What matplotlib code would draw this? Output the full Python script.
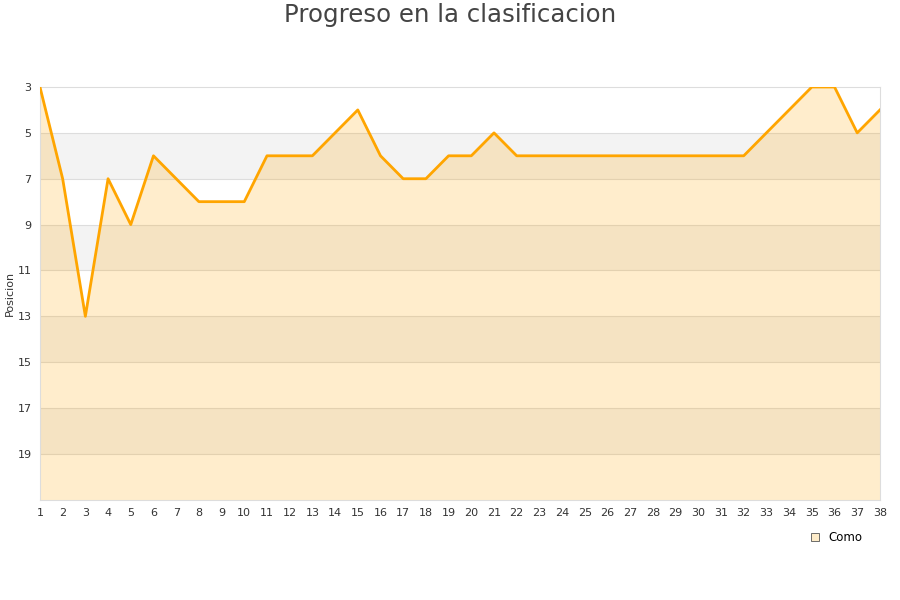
import numpy as np
import matplotlib.pyplot as plt
from matplotlib.lines import Line2D

# Datos
jornadas = list(range(1, 39))
posicion = [3, 7, 13, 7, 9, 6, 7, 8, 8, 8,
            6, 6, 6, 5, 4, 6, 7, 7, 6, 6,
            5, 6, 6, 6, 6, 6, 6, 6, 6, 6,
            6, 6, 5, 4, 3, 3, 5, 4]
equipo = 'Como'
y_ticks = [3, 5, 7, 9, 11, 13, 15, 17, 19]

fig = plt.figure(figsize=(9, 6), dpi=100)
ax = fig.add_axes([0.0444, 0.167, 0.9333, 0.688])

# Bandas alternas de fondo
for i, y0 in enumerate(range(3, 21, 2)):
    if i % 2 == 1:
        ax.axhspan(y0, y0 + 2, color='#f3f3f3', zorder=0, lw=0)
for y in y_ticks[1:]:
    ax.axhline(y, color='#dddddd', lw=0.8, zorder=1)

ax.fill_between(jornadas, posicion, 21, color='#ffa500', alpha=0.2, lw=0, zorder=2)
ax.plot(jornadas, posicion, color='#ffa500', lw=2.0, zorder=3)

ax.set_xlim(1, 38)
ax.set_ylim(21, 3)
ax.set_xticks(jornadas)
ax.set_yticks(y_ticks)
ax.tick_params(length=0, labelsize=8, colors='#333333', pad=6)
for s in ax.spines.values():
    s.set_color('#dddddd')

ax.set_ylabel('Posicion', fontsize=8, color='#333333', labelpad=2)
fig.suptitle('Progreso en la clasificacion', fontsize=17.6, color='#444444', y=0.995)

handle = Line2D([], [], marker='s', ls='', markersize=6, markerfacecolor='#feecc9',
                markeredgecolor='#555555', markeredgewidth=0.6)
fig.legend([handle], [equipo], loc='upper right', bbox_to_anchor=(0.97, 0.133),
           frameon=False, fontsize=8.5, handletextpad=0.6, handlelength=1)

fig.savefig('out.png')
